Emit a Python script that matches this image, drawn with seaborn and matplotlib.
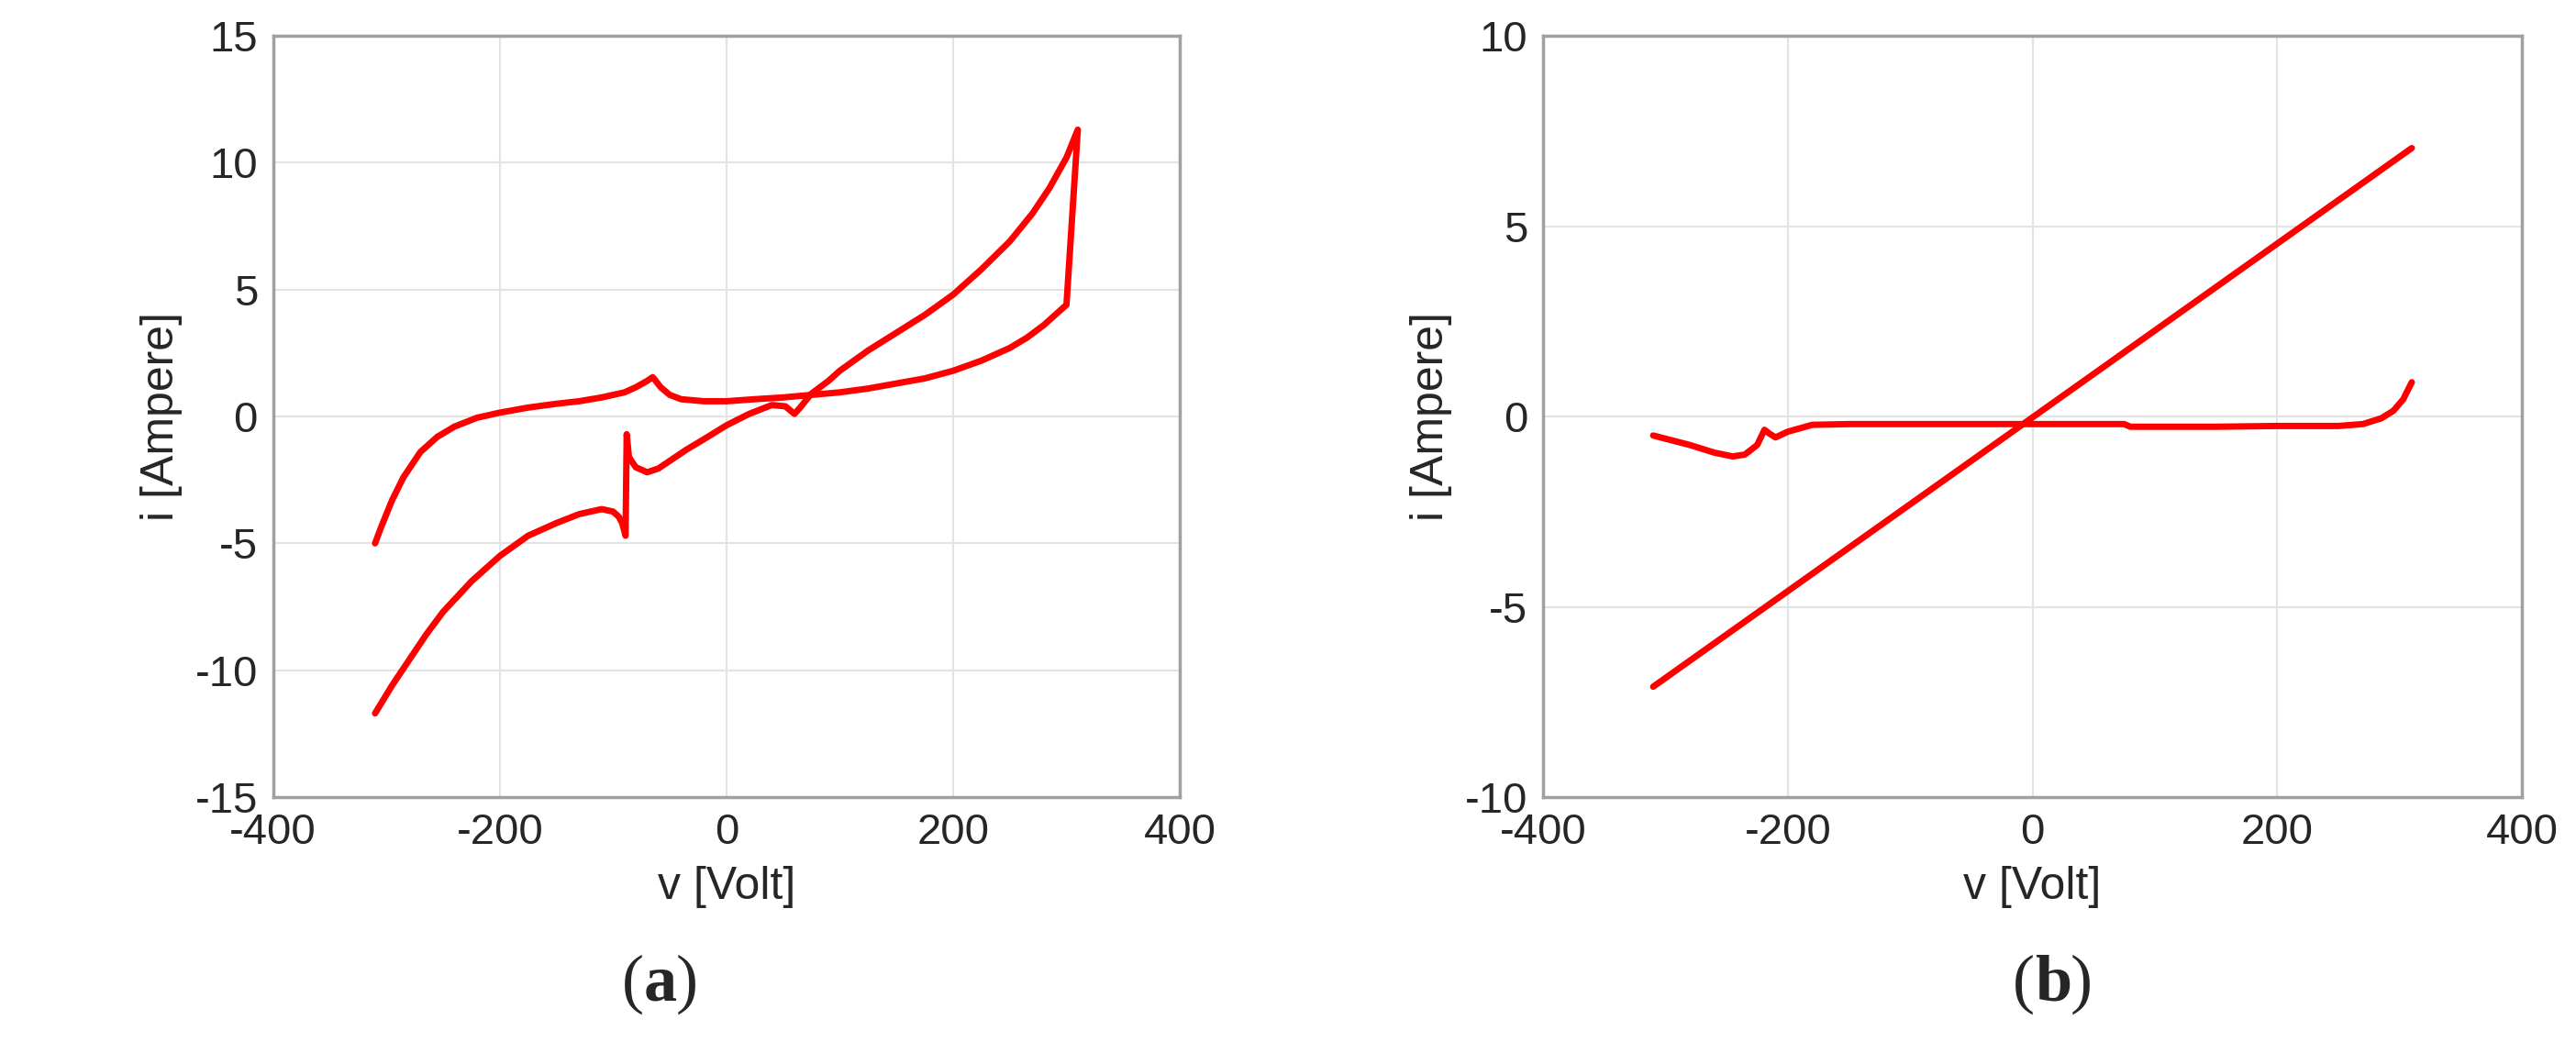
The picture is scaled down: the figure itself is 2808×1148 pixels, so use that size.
import matplotlib
matplotlib.use('Agg')
import matplotlib.pyplot as plt
import seaborn as sns
import pandas as pd

# panel (a): hysteresis loop, lower branch then upper branch back
a_v = [-310, -295, -280, -265, -250, -225, -200, -175, -150, -130, -110, -100, -95, -92, -89, -88, -86, -80, -70, -60,
       -50, -35, -20, 0, 20, 40, 52, 60,
       65, 75, 90, 100, 125, 150, 175, 200, 225, 250, 270, 285, 300, 310,
       300, 290, 280, 265, 250, 225, 200, 175, 150, 125, 100, 75, 50, 25, 0, -20, -40, -50, -58, -65, -70, -80, -90,
       -110, -130, -150, -175, -200, -220, -240, -255, -270, -285, -295, -305, -310]
a_i = [-11.7, -10.6, -9.6, -8.6, -7.7, -6.5, -5.5, -4.7, -4.2, -3.85, -3.65, -3.75, -3.95, -4.2, -4.7, -0.7, -1.6, -2.0, -2.2, -2.05,
       -1.75, -1.3, -0.9, -0.35, 0.1, 0.45, 0.4, 0.1,
       0.35, 0.9, 1.4, 1.8, 2.6, 3.3, 4.0, 4.8, 5.8, 6.9, 8.0, 9.0, 10.2, 11.3,
       4.4, 4.0, 3.6, 3.1, 2.7, 2.2, 1.8, 1.5, 1.3, 1.1, 0.95, 0.85, 0.75, 0.68, 0.6, 0.6, 0.68, 0.85, 1.15, 1.55, 1.4, 1.15, 0.95,
       0.75, 0.6, 0.5, 0.35, 0.15, -0.05, -0.4, -0.8, -1.4, -2.4, -3.3, -4.4, -5.0]

# panel (b)
b_lin_v = [-310, 310]
b_lin_i = [-7.1, 7.05]
b_v = [-310, -280, -260, -245, -235, -225, -219, -215, -210, -200, -180, -150, -100, 0, 75, 80, 150, 200, 250, 270, 285, 295, 303, 310]
b_i = [-0.5, -0.75, -0.95, -1.05, -1.0, -0.75, -0.35, -0.45, -0.55, -0.4, -0.22, -0.2, -0.2, -0.2, -0.2, -0.27, -0.27, -0.25, -0.25, -0.2, -0.05, 0.15, 0.45, 0.9]

sns.set_style('white')
plt.rcParams['font.family'] = ['Liberation Sans', 'DejaVu Sans']
plt.rcParams['axes.unicode_minus'] = False

fig = plt.figure(figsize=(28.08, 11.48), dpi=100)
ax1 = fig.add_axes([0.106, 0.243, 0.352, 0.723])
ax2 = fig.add_axes([0.599, 0.243, 0.380, 0.723])

red = '#ff0000'
kw = dict(x='v', y='i', sort=False, estimator=None, color=red, lw=5)
sns.lineplot(data=pd.DataFrame({'v': a_v, 'i': a_i}), ax=ax1, **kw)
sns.lineplot(data=pd.DataFrame({'v': b_lin_v, 'i': b_lin_i}), ax=ax2, **kw)
sns.lineplot(data=pd.DataFrame({'v': b_v, 'i': b_i}), ax=ax2, **kw)

for ax, lim, ticks in [(ax1, (-15, 15), range(-15, 16, 5)), (ax2, (-10, 10), range(-10, 11, 5))]:
    ax.set_xlim(-400, 400)
    ax.set_ylim(*lim)
    ax.set_xticks(range(-400, 401, 200))
    ax.set_yticks(list(ticks))
    ax.grid(True, color='#e3e3e3', lw=1.5)
    for s in ax.spines.values():
        s.set_color('#a0a0a0')
        s.set_linewidth(2.5)
    ax.tick_params(labelsize=34, labelcolor='#262626', length=0, pad=12)
    ax.set_xlabel('v [Volt]', fontsize=36, color='#262626', labelpad=10)
    ax.set_ylabel('i [Ampere]', fontsize=36, color='#262626', labelpad=10)

fig.text(0.25, 0.065, '(', ha='right', va='center', fontsize=52, family='Liberation Serif')
fig.text(0.25, 0.065, 'a', ha='left', va='center', fontsize=52, family='Liberation Serif', fontweight='bold')
fig.text(0.2625, 0.065, ')', ha='left', va='center', fontsize=52, family='Liberation Serif')
fig.text(0.79, 0.065, '(', ha='right', va='center', fontsize=52, family='Liberation Serif')
fig.text(0.79, 0.065, 'b', ha='left', va='center', fontsize=52, family='Liberation Serif', fontweight='bold')
fig.text(0.8035, 0.065, ')', ha='left', va='center', fontsize=52, family='Liberation Serif')
fig.savefig('out.png', dpi=100)
